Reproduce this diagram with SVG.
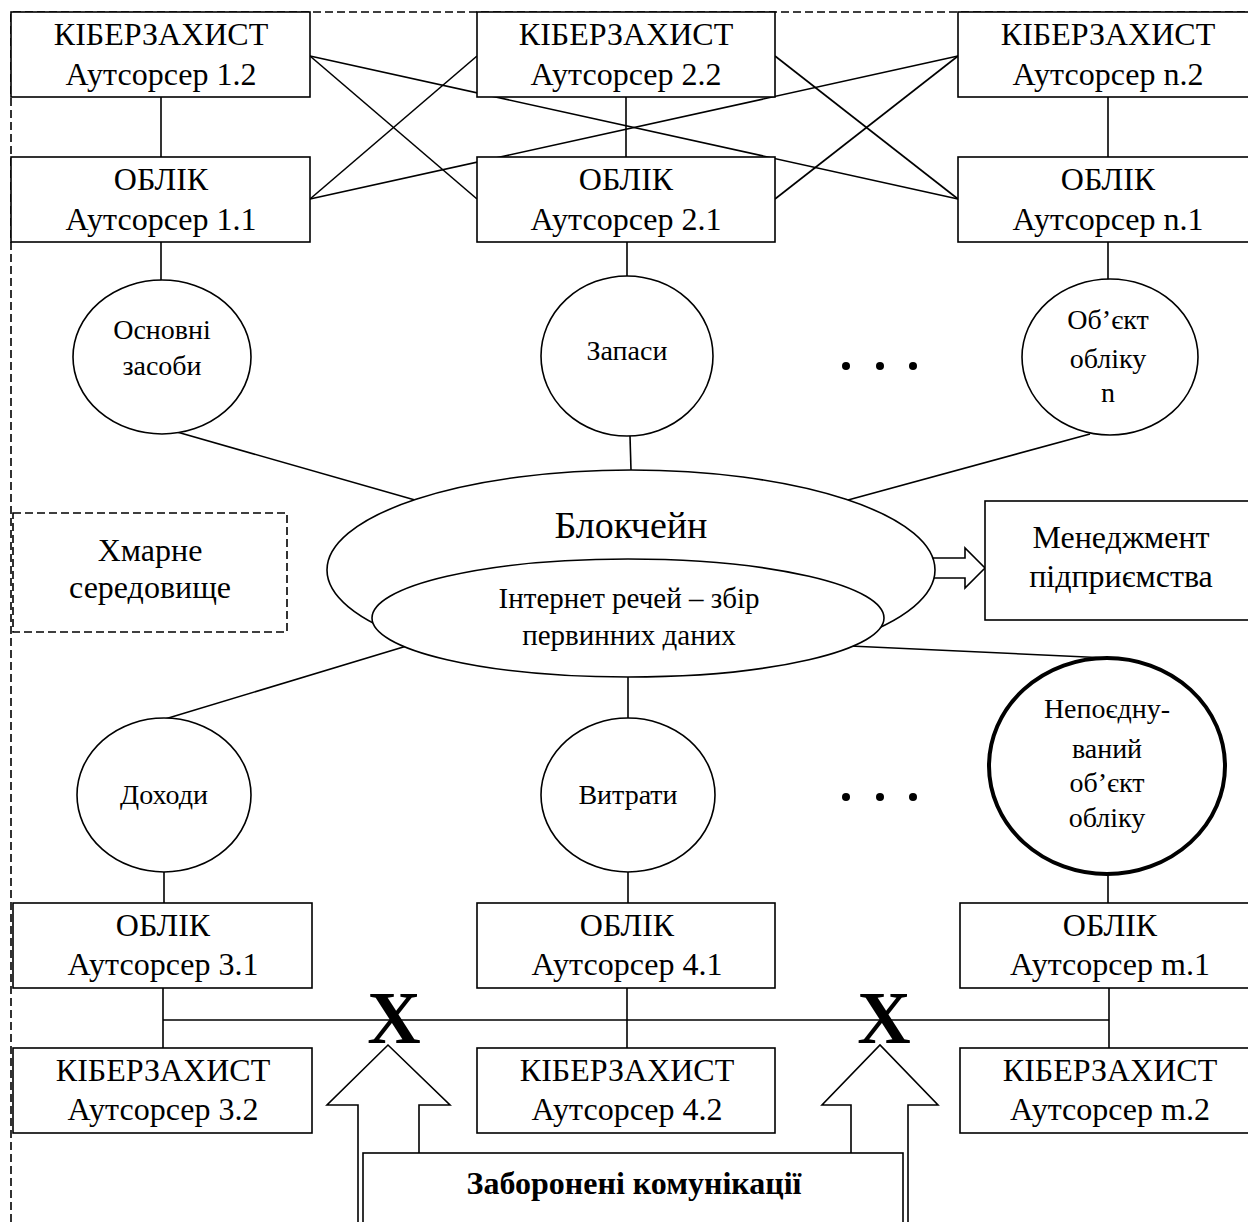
<svg xmlns="http://www.w3.org/2000/svg" width="1248" height="1222" viewBox="0 0 1248 1222">
<style>
.b{fill:#fff;stroke:#000;stroke-width:1.6}
.l{stroke:#000;stroke-width:1.6;fill:none}
.d{stroke:#000;stroke-width:1.6;fill:none;stroke-dasharray:8,4}
text{font-family:"Liberation Serif","Times New Roman",serif;fill:#000;text-anchor:middle}
.t{font-size:32px}
.c{font-size:28px}
</style>
<rect width="1248" height="1222" fill="#fff"/>
<g id="boundary">
<path class="d" d="M11,1222 V12 H1248"/>
</g>
<g id="connectors">
<line class="l" x1="161" y1="97" x2="161" y2="157"/>
<line class="l" x1="626" y1="97" x2="626" y2="157"/>
<line class="l" x1="1108" y1="97" x2="1108" y2="157"/>
<line class="l" x1="310" y1="56" x2="477" y2="199"/>
<line class="l" x1="310" y1="56" x2="958" y2="199"/>
<line class="l" x1="310" y1="199" x2="477" y2="56"/>
<line class="l" x1="310" y1="199" x2="958" y2="56"/>
<line class="l" x1="775" y1="56" x2="958" y2="199"/>
<line class="l" x1="775" y1="199" x2="958" y2="56"/>
<line class="l" x1="161" y1="242" x2="161" y2="282"/>
<line class="l" x1="627" y1="242" x2="627" y2="277"/>
<line class="l" x1="1108" y1="242" x2="1108" y2="280"/>
<line class="l" x1="177" y1="432" x2="415" y2="500"/>
<line class="l" x1="630" y1="436" x2="631" y2="470"/>
<line class="l" x1="1090" y1="434" x2="848" y2="500"/>
<line class="l" x1="410" y1="645" x2="165" y2="719"/>
<line class="l" x1="628" y1="677" x2="628" y2="718"/>
<line class="l" x1="850" y1="646" x2="1108" y2="658"/>
<line class="l" x1="164" y1="872" x2="164" y2="903"/>
<line class="l" x1="628" y1="872" x2="628" y2="903"/>
<line class="l" x1="1108" y1="874" x2="1108" y2="903"/>
<line class="l" x1="163" y1="988" x2="163" y2="1048"/>
<line class="l" x1="627" y1="988" x2="627" y2="1048"/>
<line class="l" x1="1109" y1="988" x2="1109" y2="1048"/>
<line class="l" x1="163" y1="1020" x2="1109" y2="1020"/>
<polygon class="b" points="933,558 965,558 965,548 985,568 965,588 965,578 933,578"/>
</g>
<g id="box-1-2"><rect class="b" x="11" y="12" width="299" height="85"/><text class="t" x="161" y="45">КІБЕРЗАХИСТ</text><text class="t" x="161" y="85">Аутсорсер 1.2</text></g>
<g id="box-2-2"><rect class="b" x="477" y="12" width="298" height="85"/><text class="t" x="626" y="45">КІБЕРЗАХИСТ</text><text class="t" x="626" y="85">Аутсорсер 2.2</text></g>
<g id="box-n-2"><rect class="b" x="958" y="12" width="299" height="85"/><text class="t" x="1108" y="45">КІБЕРЗАХИСТ</text><text class="t" x="1108" y="85">Аутсорсер n.2</text></g>
<g id="box-1-1"><rect class="b" x="11" y="157" width="299" height="85"/><text class="t" x="161" y="190">ОБЛІК</text><text class="t" x="161" y="230">Аутсорсер 1.1</text></g>
<g id="box-2-1"><rect class="b" x="477" y="157" width="298" height="85"/><text class="t" x="626" y="190">ОБЛІК</text><text class="t" x="626" y="230">Аутсорсер 2.1</text></g>
<g id="box-n-1"><rect class="b" x="958" y="157" width="299" height="85"/><text class="t" x="1108" y="190">ОБЛІК</text><text class="t" x="1108" y="230">Аутсорсер n.1</text></g>
<g id="osnovni"><ellipse class="b" cx="162" cy="357" rx="89" ry="77"/><text class="c" x="162" y="339">Основні</text><text class="c" x="162" y="375">засоби</text></g>
<g id="zapasy"><ellipse class="b" cx="627" cy="356" rx="86" ry="80"/><text class="c" x="627" y="360">Запаси</text></g>
<g id="obiekt-n"><ellipse class="b" cx="1110" cy="357" rx="88" ry="78"/><text class="c" x="1108" y="329">Об’єкт</text><text class="c" x="1108" y="368">обліку</text><text class="c" x="1108" y="402">n</text></g>
<g id="dots-top"><circle cx="846" cy="366" r="4"/><circle cx="880" cy="366" r="4"/><circle cx="913" cy="366" r="4"/></g>
<g id="cloud"><rect class="d" x="13" y="513" width="274" height="119"/><text style="font-size:32px" x="150" y="561">Хмарне</text><text style="font-size:32px" x="150" y="598">середовище</text></g>
<g id="blockchain"><ellipse class="b" cx="631" cy="570" rx="304" ry="100"/><text style="font-size:38px" x="631" y="538">Блокчейн</text></g>
<g id="iot"><ellipse class="b" cx="628" cy="618" rx="256" ry="59"/><text style="font-size:29px" x="629" y="608">Інтернет речей – збір</text><text style="font-size:29px" x="629" y="645">первинних даних</text></g>
<g id="management"><rect class="b" x="985" y="501" width="272" height="119"/><text style="font-size:32px" x="1121" y="548">Менеджмент</text><text style="font-size:32px" x="1121" y="587">підприємства</text></g>
<g id="dokhody"><ellipse class="b" cx="164" cy="795" rx="87" ry="77"/><text class="c" x="164" y="804">Доходи</text></g>
<g id="vytraty"><ellipse class="b" cx="628" cy="795" rx="87" ry="77"/><text class="c" x="628" y="804">Витрати</text></g>
<g id="nepoednuvanyi"><ellipse cx="1107" cy="766" rx="118" ry="108" fill="#fff" stroke="#000" stroke-width="4"/><text class="c" x="1107" y="718">Непоєдну-</text><text class="c" x="1107" y="758">ваний</text><text class="c" x="1107" y="792">об’єкт</text><text class="c" x="1107" y="827">обліку</text></g>
<g id="dots-bottom"><circle cx="846" cy="797" r="4"/><circle cx="880" cy="797" r="4"/><circle cx="913" cy="797" r="4"/></g>
<g id="box-3-1"><rect class="b" x="13" y="903" width="299" height="85"/><text class="t" x="163" y="936">ОБЛІК</text><text class="t" x="163" y="975">Аутсорсер 3.1</text></g>
<g id="box-4-1"><rect class="b" x="477" y="903" width="298" height="85"/><text class="t" x="627" y="936">ОБЛІК</text><text class="t" x="627" y="975">Аутсорсер 4.1</text></g>
<g id="box-m-1"><rect class="b" x="960" y="903" width="299" height="85"/><text class="t" x="1110" y="936">ОБЛІК</text><text class="t" x="1110" y="975">Аутсорсер m.1</text></g>
<g id="box-3-2"><rect class="b" x="13" y="1048" width="299" height="85"/><text class="t" x="163" y="1081">КІБЕРЗАХИСТ</text><text class="t" x="163" y="1120">Аутсорсер 3.2</text></g>
<g id="box-4-2"><rect class="b" x="477" y="1048" width="298" height="85"/><text class="t" x="627" y="1081">КІБЕРЗАХИСТ</text><text class="t" x="627" y="1120">Аутсорсер 4.2</text></g>
<g id="box-m-2"><rect class="b" x="960" y="1048" width="299" height="85"/><text class="t" x="1110" y="1081">КІБЕРЗАХИСТ</text><text class="t" x="1110" y="1120">Аутсорсер m.2</text></g>
<g id="x-marks"><text style="font-size:74px;font-weight:bold" x="394" y="1043">X</text><text style="font-size:74px;font-weight:bold" x="884" y="1043">X</text></g>
<g id="forbidden-arrows">
<polygon class="b" points="358,1230 358,1105 327,1105 388,1045 450,1105 419,1105 419,1230"/>
<polygon class="b" points="851,1230 851,1105 822,1105 880,1045 938,1105 908,1105 908,1230"/>
</g>
<g id="forbidden"><rect class="b" x="363" y="1153" width="540" height="80"/><text style="font-size:32px;font-weight:bold" x="634" y="1194">Заборонені комунікації</text></g>
</svg>
